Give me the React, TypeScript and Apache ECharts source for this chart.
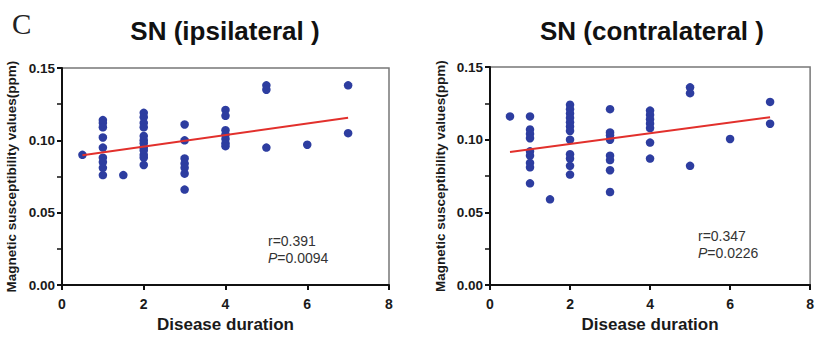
import React, { useEffect, useRef } from "react";
import * as echarts from "echarts";

const panelTitles = ["SN (ipsilateral )", "SN (contralateral )"];
const xAxisName = "Disease duration";
const yAxisName = "Magnetic susceptibility values(ppm)";

const ipsiDuration = [
  0.5,
  1, 1, 1, 1, 1, 1, 1, 1, 1,
  1.5,
  2, 2, 2, 2, 2, 2, 2, 2, 2, 2, 2, 2,
  3, 3, 3, 3, 3, 3, 3,
  4, 4, 4, 4, 4, 4, 4,
  5, 5, 5,
  6,
  7, 7,
];
const ipsiValue = [
  0.09,
  0.114, 0.112, 0.109, 0.102, 0.095, 0.088, 0.085, 0.081, 0.076,
  0.076,
  0.119, 0.116, 0.112, 0.109, 0.103, 0.1, 0.098, 0.095, 0.093, 0.09, 0.088, 0.083,
  0.111, 0.1, 0.0875, 0.084, 0.081, 0.077, 0.066,
  0.121, 0.117, 0.107, 0.104, 0.101, 0.098, 0.096,
  0.138, 0.135, 0.095,
  0.097,
  0.138, 0.105,
];
const ipsiFitX = [0.5, 7];
const ipsiFitY = [0.0897, 0.1157];
const ipsiStats = ["r=0.391", "0.0094"];

const contraDuration = [
  0.5,
  1, 1, 1, 1, 1, 1, 1, 1, 1,
  1.5,
  2, 2, 2, 2, 2, 2, 2, 2, 2, 2, 2, 2,
  3, 3, 3, 3, 3, 3, 3, 3,
  4, 4, 4, 4, 4, 4, 4,
  5, 5, 5,
  6,
  7, 7,
];
const contraValue = [
  0.116,
  0.116, 0.107, 0.104, 0.101, 0.092, 0.089, 0.084, 0.081, 0.07,
  0.059,
  0.124, 0.121, 0.118, 0.115, 0.112, 0.109, 0.106, 0.1, 0.09, 0.087, 0.082, 0.076,
  0.121, 0.105, 0.103, 0.1, 0.089, 0.086, 0.079, 0.064,
  0.12, 0.117, 0.114, 0.111, 0.108, 0.098, 0.087,
  0.136, 0.132, 0.082,
  0.1005,
  0.126, 0.111,
];
const contraFitX = [0.5, 7];
const contraFitY = [0.0915, 0.1155];
const contraStats = ["r=0.347", "0.0226"];

const xTicks = { min: 0, max: 8, interval: 2 };
const yTicks = { min: 0, max: 0.15, interval: 0.05 };

const FONT = "Liberation Sans, Arial, sans-serif";
const DOT = "#2d3da0";
const LINE = "#e2302c";

function zip(a: number[], b: number[]) {
  return a.map((v, i) => [v, b[i]]);
}

export default function App() {
  const ref = useRef<HTMLDivElement>(null);
  useEffect(() => {
    if (!ref.current) return;
    const chart = echarts.init(ref.current, null, { renderer: "svg" });
    const grids = [
      { left: 62, top: 68, width: 327, height: 219 },
      { left: 490, top: 67, width: 327, height: 221 },
    ];
    const mkX = (i: number) => ({
      type: "value",
      gridIndex: i,
      min: xTicks.min,
      max: xTicks.max,
      interval: xTicks.interval,
      name: xAxisName,
      nameLocation: "middle",
      nameGap: 30,
      nameTextStyle: { fontFamily: FONT, fontWeight: "bold", fontSize: 17, color: "#1a1a1a" },
      axisLine: { show: true, lineStyle: { color: "#111", width: 2 } },
      axisTick: { show: true, length: 5, inside: false, lineStyle: { color: "#111", width: 2 } },
      axisLabel: { margin: 12, fontFamily: FONT, fontWeight: "bold", fontSize: 14, color: "#1a1a1a" },
      splitLine: { show: false },
    });
    const mkY = (i: number) => ({
      type: "value",
      gridIndex: i,
      min: yTicks.min,
      max: yTicks.max,
      interval: yTicks.interval,
      name: yAxisName,
      nameLocation: "middle",
      nameRotate: 90,
      nameGap: i === 0 ? 44 : 43,
      nameTextStyle: { fontFamily: FONT, fontWeight: "bold", fontSize: 13.5, color: "#1a1a1a" },
      axisLine: { show: true, lineStyle: { color: "#111", width: 2 } },
      axisTick: { show: true, length: 5, inside: false, lineStyle: { color: "#111", width: 2 } },
      minorTick: { show: true, splitNumber: 2, length: 5, lineStyle: { color: "#111", width: 1.5 } },
      axisLabel: {
        margin: 7,
        fontFamily: FONT,
        fontWeight: "bold",
        fontSize: 13.5,
        color: "#1a1a1a",
        formatter: (v: number) => v.toFixed(2),
      },
      splitLine: { show: false },
    });
    const mkStats = (x: number, y: number, stats: string[]) => [
      {
        type: "text",
        left: x,
        top: y,
        style: { text: stats[0], font: `14px ${FONT}`, fill: "#333" },
      },
      {
        type: "text",
        left: x,
        top: y + 17,
        style: {
          text: `{i|P}=${stats[1]}`,
          font: `14px ${FONT}`,
          fill: "#333",
          rich: { i: { fontStyle: "italic", fontSize: 14, fontFamily: FONT, fill: "#333", color: "#333" } },
        },
      },
    ];
    chart.setOption({
      animation: false,
      backgroundColor: "#fff",
      grid: grids.map((g) => ({ ...g, show: true, borderColor: "#777", borderWidth: 1.5, backgroundColor: "transparent" })),
      xAxis: [mkX(0), mkX(1)],
      yAxis: [mkY(0), mkY(1)],
      series: [
        {
          type: "scatter",
          xAxisIndex: 0,
          yAxisIndex: 0,
          symbolSize: 8.5,
          itemStyle: { color: DOT, opacity: 1 },
          data: zip(ipsiDuration, ipsiValue),
        },
        {
          type: "line",
          xAxisIndex: 0,
          yAxisIndex: 0,
          showSymbol: false,
          symbol: "none",
          lineStyle: { color: LINE, width: 2 },
          data: zip(ipsiFitX, ipsiFitY),
          z: 3,
        },
        {
          type: "scatter",
          xAxisIndex: 1,
          yAxisIndex: 1,
          symbolSize: 8.5,
          itemStyle: { color: DOT, opacity: 1 },
          data: zip(contraDuration, contraValue),
        },
        {
          type: "line",
          xAxisIndex: 1,
          yAxisIndex: 1,
          showSymbol: false,
          symbol: "none",
          lineStyle: { color: LINE, width: 2 },
          data: zip(contraFitX, contraFitY),
          z: 3,
        },
      ],
      graphic: [
        {
          type: "text",
          left: 12,
          top: 9,
          style: { text: "C", font: `29px "Liberation Serif", "Times New Roman", serif`, fill: "#222" },
        },
        {
          type: "text",
          x: 225,
          y: 31,
          style: {
            text: panelTitles[0],
            font: `bold 26px ${FONT}`,
            fill: "#111",
            align: "center",
            verticalAlign: "middle",
          },
        },
        {
          type: "text",
          x: 652,
          y: 31,
          style: {
            text: panelTitles[1],
            font: `bold 26px ${FONT}`,
            fill: "#111",
            align: "center",
            verticalAlign: "middle",
          },
        },
        ...mkStats(268, 234, ipsiStats),
        ...mkStats(698, 229, contraStats),
      ],
    });
    return () => chart.dispose();
  }, []);
  return (
    <div
      ref={ref}
      style={{ position: "fixed", left: 0, top: 0, width: 817, height: 338, background: "#fff" }}
    />
  );
}
